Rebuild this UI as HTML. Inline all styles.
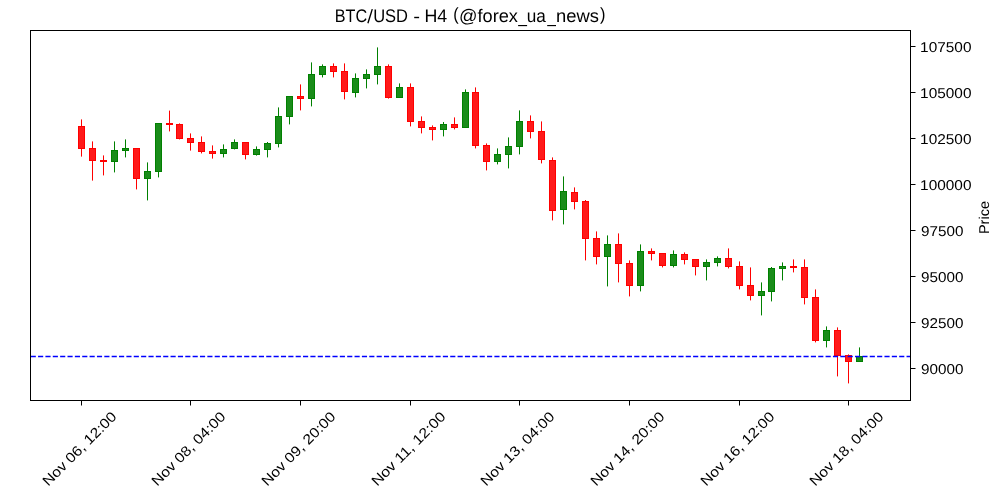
<!DOCTYPE html>
<html><head><meta charset="utf-8"><title>BTC/USD - H4</title>
<style>
html,body{margin:0;padding:0;background:#fff;width:1000px;height:500px;overflow:hidden}
.t{font-family:"Liberation Sans",sans-serif;fill:#000;text-rendering:geometricPrecision}
</style></head><body>
<svg width="1000" height="500" viewBox="0 0 1000 500" style="display:block;position:absolute;left:0;top:0;will-change:transform">
<g><rect x="81" y="119.4" width="1" height="37.2" fill="#ff0000"/>
<rect x="92" y="141.4" width="1" height="39.2" fill="#ff0000"/>
<rect x="103" y="155.4" width="1" height="20.0" fill="#ff0000"/>
<rect x="114" y="141.4" width="1" height="31.0" fill="#008000"/>
<rect x="125" y="139.4" width="1" height="18.0" fill="#008000"/>
<rect x="136" y="148.0" width="1" height="41.4" fill="#ff0000"/>
<rect x="147" y="162.4" width="1" height="38.0" fill="#008000"/>
<rect x="158" y="123.0" width="1" height="54.4" fill="#008000"/>
<rect x="169" y="110.6" width="1" height="20.8" fill="#ff0000"/>
<rect x="179" y="123.4" width="1" height="16.0" fill="#ff0000"/>
<rect x="190" y="133.4" width="1" height="17.2" fill="#ff0000"/>
<rect x="201" y="136.4" width="1" height="17.0" fill="#ff0000"/>
<rect x="212" y="145.4" width="1" height="13.2" fill="#ff0000"/>
<rect x="223" y="144.4" width="1" height="13.0" fill="#008000"/>
<rect x="234" y="139.4" width="1" height="10.0" fill="#008000"/>
<rect x="245" y="142.0" width="1" height="17.4" fill="#ff0000"/>
<rect x="256" y="146.4" width="1" height="9.2" fill="#008000"/>
<rect x="267" y="142.0" width="1" height="15.4" fill="#008000"/>
<rect x="278" y="107.4" width="1" height="40.0" fill="#008000"/>
<rect x="289" y="96.0" width="1" height="28.4" fill="#008000"/>
<rect x="300" y="84.4" width="1" height="26.0" fill="#ff0000"/>
<rect x="311" y="62.4" width="1" height="44.0" fill="#008000"/>
<rect x="322" y="64.4" width="1" height="13.0" fill="#008000"/>
<rect x="333" y="63.4" width="1" height="14.0" fill="#ff0000"/>
<rect x="344" y="63.4" width="1" height="36.0" fill="#ff0000"/>
<rect x="355" y="73.4" width="1" height="24.0" fill="#008000"/>
<rect x="366" y="69.4" width="1" height="19.0" fill="#008000"/>
<rect x="377" y="47.4" width="1" height="37.0" fill="#008000"/>
<rect x="388" y="64.4" width="1" height="34.2" fill="#ff0000"/>
<rect x="399" y="83.4" width="1" height="14.6" fill="#008000"/>
<rect x="410" y="83.4" width="1" height="43.0" fill="#ff0000"/>
<rect x="421" y="116.4" width="1" height="17.0" fill="#ff0000"/>
<rect x="432" y="125.4" width="1" height="15.0" fill="#ff0000"/>
<rect x="443" y="122.0" width="1" height="14.4" fill="#008000"/>
<rect x="454" y="117.4" width="1" height="12.0" fill="#ff0000"/>
<rect x="465" y="89.4" width="1" height="38.6" fill="#008000"/>
<rect x="475" y="87.4" width="1" height="61.0" fill="#ff0000"/>
<rect x="486" y="143.4" width="1" height="27.0" fill="#ff0000"/>
<rect x="497" y="148.4" width="1" height="16.0" fill="#008000"/>
<rect x="508" y="137.4" width="1" height="31.0" fill="#008000"/>
<rect x="519" y="110.4" width="1" height="44.0" fill="#008000"/>
<rect x="530" y="115.4" width="1" height="23.0" fill="#ff0000"/>
<rect x="541" y="121.4" width="1" height="42.0" fill="#ff0000"/>
<rect x="552" y="157.4" width="1" height="63.0" fill="#ff0000"/>
<rect x="563" y="176.4" width="1" height="48.0" fill="#008000"/>
<rect x="574" y="187.4" width="1" height="22.0" fill="#ff0000"/>
<rect x="585" y="200.0" width="1" height="60.4" fill="#ff0000"/>
<rect x="596" y="231.4" width="1" height="33.0" fill="#ff0000"/>
<rect x="607" y="235.4" width="1" height="51.0" fill="#008000"/>
<rect x="618" y="233.4" width="1" height="49.0" fill="#ff0000"/>
<rect x="629" y="260.4" width="1" height="36.0" fill="#ff0000"/>
<rect x="640" y="244.4" width="1" height="47.0" fill="#008000"/>
<rect x="651" y="248.4" width="1" height="12.0" fill="#ff0000"/>
<rect x="662" y="253.0" width="1" height="14.4" fill="#ff0000"/>
<rect x="673" y="250.4" width="1" height="17.0" fill="#008000"/>
<rect x="684" y="252.4" width="1" height="12.0" fill="#ff0000"/>
<rect x="695" y="259.0" width="1" height="16.4" fill="#ff0000"/>
<rect x="706" y="259.4" width="1" height="21.0" fill="#008000"/>
<rect x="717" y="256.4" width="1" height="10.0" fill="#008000"/>
<rect x="728" y="248.4" width="1" height="20.0" fill="#ff0000"/>
<rect x="739" y="261.4" width="1" height="28.0" fill="#ff0000"/>
<rect x="750" y="267.4" width="1" height="33.0" fill="#ff0000"/>
<rect x="761" y="282.4" width="1" height="33.0" fill="#008000"/>
<rect x="771" y="267.0" width="1" height="34.4" fill="#008000"/>
<rect x="782" y="262.4" width="1" height="18.0" fill="#008000"/>
<rect x="793" y="259.4" width="1" height="13.0" fill="#ff0000"/>
<rect x="804" y="259.4" width="1" height="45.0" fill="#ff0000"/>
<rect x="815" y="289.4" width="1" height="53.0" fill="#ff0000"/>
<rect x="826" y="326.4" width="1" height="21.0" fill="#008000"/>
<rect x="837" y="327.4" width="1" height="49.0" fill="#ff0000"/>
<rect x="848" y="354.4" width="1" height="29.0" fill="#ff0000"/>
<rect x="859" y="347.4" width="1" height="14.6" fill="#008000"/></g>
<g shape-rendering="crispEdges">
<rect x="78" y="126" width="7" height="23" fill="#ff0000"/>
<rect x="79" y="127" width="5" height="21" fill="#ff1a1a"/>
<rect x="89" y="148" width="7" height="13" fill="#ff0000"/>
<rect x="90" y="149" width="5" height="11" fill="#ff1a1a"/>
<rect x="100" y="160" width="7" height="2" fill="#ff0000"/>
<rect x="111" y="150" width="7" height="12" fill="#008000"/>
<rect x="112" y="151" width="5" height="10" fill="#1a8c1a"/>
<rect x="122" y="148" width="7" height="3" fill="#008000"/>
<rect x="123" y="149" width="5" height="1" fill="#1a8c1a"/>
<rect x="133" y="148" width="7" height="31" fill="#ff0000"/>
<rect x="134" y="149" width="5" height="29" fill="#ff1a1a"/>
<rect x="144" y="171" width="7" height="8" fill="#008000"/>
<rect x="145" y="172" width="5" height="6" fill="#1a8c1a"/>
<rect x="155" y="123" width="7" height="49" fill="#008000"/>
<rect x="156" y="124" width="5" height="47" fill="#1a8c1a"/>
<rect x="166" y="123" width="7" height="2" fill="#ff0000"/>
<rect x="176" y="124" width="7" height="15" fill="#ff0000"/>
<rect x="177" y="125" width="5" height="13" fill="#ff1a1a"/>
<rect x="187" y="138" width="7" height="5" fill="#ff0000"/>
<rect x="188" y="139" width="5" height="3" fill="#ff1a1a"/>
<rect x="198" y="142" width="7" height="10" fill="#ff0000"/>
<rect x="199" y="143" width="5" height="8" fill="#ff1a1a"/>
<rect x="209" y="151" width="7" height="3" fill="#ff0000"/>
<rect x="210" y="152" width="5" height="1" fill="#ff1a1a"/>
<rect x="220" y="149" width="7" height="5" fill="#008000"/>
<rect x="221" y="150" width="5" height="3" fill="#1a8c1a"/>
<rect x="231" y="142" width="7" height="7" fill="#008000"/>
<rect x="232" y="143" width="5" height="5" fill="#1a8c1a"/>
<rect x="242" y="142" width="7" height="13" fill="#ff0000"/>
<rect x="243" y="143" width="5" height="11" fill="#ff1a1a"/>
<rect x="253" y="149" width="7" height="6" fill="#008000"/>
<rect x="254" y="150" width="5" height="4" fill="#1a8c1a"/>
<rect x="264" y="143" width="7" height="7" fill="#008000"/>
<rect x="265" y="144" width="5" height="5" fill="#1a8c1a"/>
<rect x="275" y="116" width="7" height="28" fill="#008000"/>
<rect x="276" y="117" width="5" height="26" fill="#1a8c1a"/>
<rect x="286" y="96" width="7" height="21" fill="#008000"/>
<rect x="287" y="97" width="5" height="19" fill="#1a8c1a"/>
<rect x="297" y="96" width="7" height="3" fill="#ff0000"/>
<rect x="298" y="97" width="5" height="1" fill="#ff1a1a"/>
<rect x="308" y="74" width="7" height="25" fill="#008000"/>
<rect x="309" y="75" width="5" height="23" fill="#1a8c1a"/>
<rect x="319" y="66" width="7" height="9" fill="#008000"/>
<rect x="320" y="67" width="5" height="7" fill="#1a8c1a"/>
<rect x="330" y="66" width="7" height="6" fill="#ff0000"/>
<rect x="331" y="67" width="5" height="4" fill="#ff1a1a"/>
<rect x="341" y="71" width="7" height="21" fill="#ff0000"/>
<rect x="342" y="72" width="5" height="19" fill="#ff1a1a"/>
<rect x="352" y="78" width="7" height="15" fill="#008000"/>
<rect x="353" y="79" width="5" height="13" fill="#1a8c1a"/>
<rect x="363" y="74" width="7" height="5" fill="#008000"/>
<rect x="364" y="75" width="5" height="3" fill="#1a8c1a"/>
<rect x="374" y="66" width="7" height="9" fill="#008000"/>
<rect x="375" y="67" width="5" height="7" fill="#1a8c1a"/>
<rect x="385" y="66" width="7" height="32" fill="#ff0000"/>
<rect x="386" y="67" width="5" height="30" fill="#ff1a1a"/>
<rect x="396" y="87" width="7" height="11" fill="#008000"/>
<rect x="397" y="88" width="5" height="9" fill="#1a8c1a"/>
<rect x="407" y="87" width="7" height="35" fill="#ff0000"/>
<rect x="408" y="88" width="5" height="33" fill="#ff1a1a"/>
<rect x="418" y="121" width="7" height="7" fill="#ff0000"/>
<rect x="419" y="122" width="5" height="5" fill="#ff1a1a"/>
<rect x="429" y="127" width="7" height="3" fill="#ff0000"/>
<rect x="430" y="128" width="5" height="1" fill="#ff1a1a"/>
<rect x="440" y="124" width="7" height="6" fill="#008000"/>
<rect x="441" y="125" width="5" height="4" fill="#1a8c1a"/>
<rect x="451" y="124" width="7" height="4" fill="#ff0000"/>
<rect x="452" y="125" width="5" height="2" fill="#ff1a1a"/>
<rect x="462" y="92" width="7" height="36" fill="#008000"/>
<rect x="463" y="93" width="5" height="34" fill="#1a8c1a"/>
<rect x="472" y="92" width="7" height="54" fill="#ff0000"/>
<rect x="473" y="93" width="5" height="52" fill="#ff1a1a"/>
<rect x="483" y="145" width="7" height="17" fill="#ff0000"/>
<rect x="484" y="146" width="5" height="15" fill="#ff1a1a"/>
<rect x="494" y="154" width="7" height="8" fill="#008000"/>
<rect x="495" y="155" width="5" height="6" fill="#1a8c1a"/>
<rect x="505" y="146" width="7" height="9" fill="#008000"/>
<rect x="506" y="147" width="5" height="7" fill="#1a8c1a"/>
<rect x="516" y="121" width="7" height="26" fill="#008000"/>
<rect x="517" y="122" width="5" height="24" fill="#1a8c1a"/>
<rect x="527" y="121" width="7" height="11" fill="#ff0000"/>
<rect x="528" y="122" width="5" height="9" fill="#ff1a1a"/>
<rect x="538" y="131" width="7" height="29" fill="#ff0000"/>
<rect x="539" y="132" width="5" height="27" fill="#ff1a1a"/>
<rect x="549" y="160" width="7" height="51" fill="#ff0000"/>
<rect x="550" y="161" width="5" height="49" fill="#ff1a1a"/>
<rect x="560" y="191" width="7" height="19" fill="#008000"/>
<rect x="561" y="192" width="5" height="17" fill="#1a8c1a"/>
<rect x="571" y="192" width="7" height="10" fill="#ff0000"/>
<rect x="572" y="193" width="5" height="8" fill="#ff1a1a"/>
<rect x="582" y="201" width="7" height="38" fill="#ff0000"/>
<rect x="583" y="202" width="5" height="36" fill="#ff1a1a"/>
<rect x="593" y="238" width="7" height="19" fill="#ff0000"/>
<rect x="594" y="239" width="5" height="17" fill="#ff1a1a"/>
<rect x="604" y="244" width="7" height="13" fill="#008000"/>
<rect x="605" y="245" width="5" height="11" fill="#1a8c1a"/>
<rect x="615" y="244" width="7" height="20" fill="#ff0000"/>
<rect x="616" y="245" width="5" height="18" fill="#ff1a1a"/>
<rect x="626" y="263" width="7" height="23" fill="#ff0000"/>
<rect x="627" y="264" width="5" height="21" fill="#ff1a1a"/>
<rect x="637" y="251" width="7" height="35" fill="#008000"/>
<rect x="638" y="252" width="5" height="33" fill="#1a8c1a"/>
<rect x="648" y="251" width="7" height="3" fill="#ff0000"/>
<rect x="649" y="252" width="5" height="1" fill="#ff1a1a"/>
<rect x="659" y="253" width="7" height="13" fill="#ff0000"/>
<rect x="660" y="254" width="5" height="11" fill="#ff1a1a"/>
<rect x="670" y="254" width="7" height="12" fill="#008000"/>
<rect x="671" y="255" width="5" height="10" fill="#1a8c1a"/>
<rect x="681" y="254" width="7" height="6" fill="#ff0000"/>
<rect x="682" y="255" width="5" height="4" fill="#ff1a1a"/>
<rect x="692" y="259" width="7" height="8" fill="#ff0000"/>
<rect x="693" y="260" width="5" height="6" fill="#ff1a1a"/>
<rect x="703" y="262" width="7" height="5" fill="#008000"/>
<rect x="704" y="263" width="5" height="3" fill="#1a8c1a"/>
<rect x="714" y="258" width="7" height="5" fill="#008000"/>
<rect x="715" y="259" width="5" height="3" fill="#1a8c1a"/>
<rect x="725" y="258" width="7" height="9" fill="#ff0000"/>
<rect x="726" y="259" width="5" height="7" fill="#ff1a1a"/>
<rect x="736" y="266" width="7" height="20" fill="#ff0000"/>
<rect x="737" y="267" width="5" height="18" fill="#ff1a1a"/>
<rect x="747" y="285" width="7" height="11" fill="#ff0000"/>
<rect x="748" y="286" width="5" height="9" fill="#ff1a1a"/>
<rect x="758" y="291" width="7" height="5" fill="#008000"/>
<rect x="759" y="292" width="5" height="3" fill="#1a8c1a"/>
<rect x="768" y="268" width="7" height="24" fill="#008000"/>
<rect x="769" y="269" width="5" height="22" fill="#1a8c1a"/>
<rect x="779" y="266" width="7" height="3" fill="#008000"/>
<rect x="780" y="267" width="5" height="1" fill="#1a8c1a"/>
<rect x="790" y="266" width="7" height="2" fill="#ff0000"/>
<rect x="801" y="267" width="7" height="31" fill="#ff0000"/>
<rect x="802" y="268" width="5" height="29" fill="#ff1a1a"/>
<rect x="812" y="297" width="7" height="44" fill="#ff0000"/>
<rect x="813" y="298" width="5" height="42" fill="#ff1a1a"/>
<rect x="823" y="330" width="7" height="11" fill="#008000"/>
<rect x="824" y="331" width="5" height="9" fill="#1a8c1a"/>
<rect x="834" y="330" width="7" height="26" fill="#ff0000"/>
<rect x="835" y="331" width="5" height="24" fill="#ff1a1a"/>
<rect x="845" y="355" width="7" height="7" fill="#ff0000"/>
<rect x="846" y="356" width="5" height="5" fill="#ff1a1a"/>
<rect x="856" y="356" width="7" height="6" fill="#008000"/>
<rect x="857" y="357" width="5" height="4" fill="#1a8c1a"/>
</g>
<line x1="30.7" x2="910.5" y1="356.5" y2="356.5" stroke="#0000ff" stroke-width="1.39" stroke-dasharray="5.14 2.22"/>
<rect x="30.5" y="30.5" width="880" height="370" fill="none" stroke="#000" stroke-width="1" shape-rendering="crispEdges"/>
<rect x="911" y="46.0" width="4.5" height="1" fill="#000"/>
<text x="920.13" y="52.0" font-size="14.2" textLength="51.33" lengthAdjust="spacingAndGlyphs" class="t">107500</text>
<rect x="911" y="92.0" width="4.5" height="1" fill="#000"/>
<text x="920.13" y="98.0" font-size="14.2" textLength="51.33" lengthAdjust="spacingAndGlyphs" class="t">105000</text>
<rect x="911" y="138.0" width="4.5" height="1" fill="#000"/>
<text x="920.13" y="144.0" font-size="14.2" textLength="51.33" lengthAdjust="spacingAndGlyphs" class="t">102500</text>
<rect x="911" y="184.0" width="4.5" height="1" fill="#000"/>
<text x="920.13" y="190.0" font-size="14.2" textLength="51.33" lengthAdjust="spacingAndGlyphs" class="t">100000</text>
<rect x="911" y="230.0" width="4.5" height="1" fill="#000"/>
<text x="921.07" y="236.0" font-size="14.2" textLength="42.38" lengthAdjust="spacingAndGlyphs" class="t">97500</text>
<rect x="911" y="276.0" width="4.5" height="1" fill="#000"/>
<text x="921.07" y="282.0" font-size="14.2" textLength="42.38" lengthAdjust="spacingAndGlyphs" class="t">95000</text>
<rect x="911" y="322.0" width="4.5" height="1" fill="#000"/>
<text x="921.07" y="328.0" font-size="14.2" textLength="42.38" lengthAdjust="spacingAndGlyphs" class="t">92500</text>
<rect x="911" y="368.0" width="4.5" height="1" fill="#000"/>
<text x="921.07" y="374.0" font-size="14.2" textLength="42.38" lengthAdjust="spacingAndGlyphs" class="t">90000</text>
<rect x="81.0" y="401" width="1" height="4.5" fill="#000"/>
<text transform="translate(48.17,486.83) rotate(-45)" x="0" y="0" font-size="14.2" textLength="98.02" lengthAdjust="spacingAndGlyphs" class="t">Nov 06, 12:00</text>
<rect x="190.0" y="401" width="1" height="4.5" fill="#000"/>
<text transform="translate(157.17,486.83) rotate(-45)" x="0" y="0" font-size="14.2" textLength="98.02" lengthAdjust="spacingAndGlyphs" class="t">Nov 08, 04:00</text>
<rect x="300.0" y="401" width="1" height="4.5" fill="#000"/>
<text transform="translate(267.17,486.83) rotate(-45)" x="0" y="0" font-size="14.2" textLength="98.02" lengthAdjust="spacingAndGlyphs" class="t">Nov 09, 20:00</text>
<rect x="410.0" y="401" width="1" height="4.5" fill="#000"/>
<text transform="translate(377.17,486.83) rotate(-45)" x="0" y="0" font-size="14.2" textLength="98.02" lengthAdjust="spacingAndGlyphs" class="t">Nov 11, 12:00</text>
<rect x="519.0" y="401" width="1" height="4.5" fill="#000"/>
<text transform="translate(486.17,486.83) rotate(-45)" x="0" y="0" font-size="14.2" textLength="98.02" lengthAdjust="spacingAndGlyphs" class="t">Nov 13, 04:00</text>
<rect x="629.0" y="401" width="1" height="4.5" fill="#000"/>
<text transform="translate(596.17,486.83) rotate(-45)" x="0" y="0" font-size="14.2" textLength="98.02" lengthAdjust="spacingAndGlyphs" class="t">Nov 14, 20:00</text>
<rect x="739.0" y="401" width="1" height="4.5" fill="#000"/>
<text transform="translate(706.17,486.83) rotate(-45)" x="0" y="0" font-size="14.2" textLength="98.02" lengthAdjust="spacingAndGlyphs" class="t">Nov 16, 12:00</text>
<rect x="848.0" y="401" width="1" height="4.5" fill="#000"/>
<text transform="translate(815.17,486.83) rotate(-45)" x="0" y="0" font-size="14.2" textLength="98.02" lengthAdjust="spacingAndGlyphs" class="t">Nov 18, 04:00</text>
<text x="334.81" y="22" font-size="18.2" textLength="32.36" lengthAdjust="spacingAndGlyphs" class="t">BTC</text>
<text x="373.19" y="22" font-size="18.2" textLength="34.84" lengthAdjust="spacingAndGlyphs" class="t">USD</text>
<text x="424.51" y="22" font-size="18.2" textLength="22.74" lengthAdjust="spacingAndGlyphs" class="t">H4</text>
<text x="459.05" y="22" font-size="18.2" textLength="58.9" lengthAdjust="spacingAndGlyphs" class="t">@forex</text>
<text x="526.8" y="22" font-size="18.2" textLength="19.09" lengthAdjust="spacingAndGlyphs" class="t">ua</text>
<text x="556.0" y="22" font-size="18.2" textLength="42.92" lengthAdjust="spacingAndGlyphs" class="t">news</text>
<text x="453.3" y="20.4" font-size="17.5" textLength="5.4" lengthAdjust="spacingAndGlyphs" class="t">(</text><text x="599.96" y="20.4" font-size="17.5" textLength="5.45" lengthAdjust="spacingAndGlyphs" class="t">)</text>
<line x1="372.3" y1="9.1" x2="367.9" y2="23.3" stroke="#000" stroke-width="1.35"/>
<rect x="414.2" y="16.8" width="4.9" height="1.4" fill="#000"/>
<rect x="518.1" y="25.0" width="9.0" height="1.15" fill="#000"/><rect x="547.2" y="25.0" width="8.8" height="1.15" fill="#000"/>
<text transform="translate(989.2,234.07) rotate(-90)" x="0" y="0" font-size="14.2" textLength="33.05" lengthAdjust="spacingAndGlyphs" class="t">Price</text>
</svg>
</body></html>
